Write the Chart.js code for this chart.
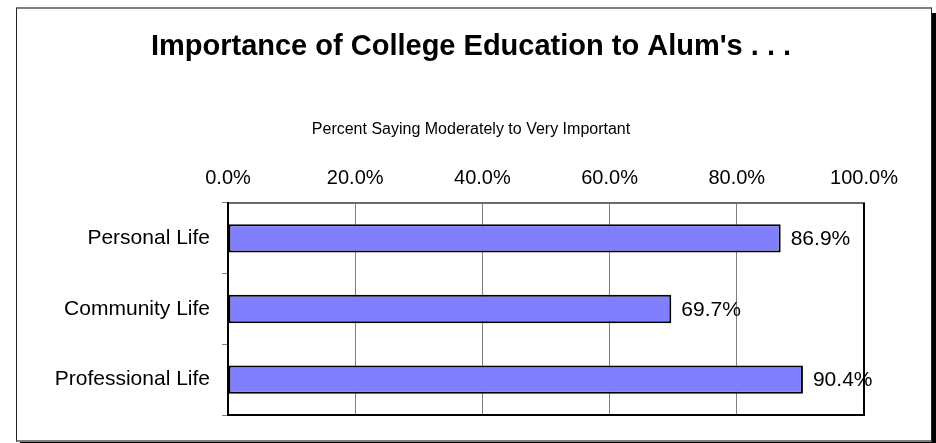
<!DOCTYPE html>
<html>
<head>
<meta charset="utf-8">
<script src="https://cdn.jsdelivr.net/npm/chart.js@4"></script>
<style>
  html, body { margin: 0; padding: 0; background: #fff; }
  #wrap { position: relative; width: 936px; height: 443px; overflow: hidden; }
  #frame {
    position: absolute; left: 16px; top: 7px; width: 914px; height: 431px;
    border-top: 2px solid #808080; border-bottom: 2px solid #808080;
    border-left: 1px solid #222; border-right: 1px solid #222;
    box-shadow: 4px 6px 0 #000;
    background: #fff;
  }
  #chart { position: absolute; left: 0; top: 0; }
</style>
</head>
<body>
<div id="wrap">
  <div id="frame"></div>
  <canvas id="chart" width="936" height="443"></canvas>
</div>
<script>
// data
const categories = ['Personal Life', 'Community Life', 'Professional Life'];
const percents   = [86.9, 69.7, 90.4];
const xTicks     = [0, 20, 40, 60, 80, 100];

const FONT = "'Liberation Sans', Arial, sans-serif";

// value labels to the right of each bar
const barLabels = {
  id: 'barLabels',
  afterDatasetsDraw(chart) {
    const ctx = chart.ctx;
    const meta = chart.getDatasetMeta(0);
    ctx.save();
    ctx.font = '21px ' + FONT;
    ctx.fillStyle = '#000';
    ctx.textAlign = 'left';
    ctx.textBaseline = 'middle';
    meta.data.forEach((bar, i) => {
      ctx.fillText(percents[i].toFixed(1) + '%', bar.x + 10, bar.y + 1);
    });
    ctx.restore();
  }
};

// black right and bottom edges of the plot area
const plotFrame = {
  id: 'plotFrame',
  afterDraw(chart) {
    const a = chart.chartArea;
    const ctx = chart.ctx;
    ctx.save();
    ctx.strokeStyle = '#000';
    ctx.lineWidth = 2;
    ctx.beginPath();
    ctx.moveTo(a.right, a.top);
    ctx.lineTo(a.right, a.bottom);
    ctx.lineTo(a.left - 1, a.bottom);
    ctx.stroke();
    ctx.restore();
  }
};

new Chart(document.getElementById('chart'), {
  type: 'bar',
  data: {
    labels: categories,
    datasets: [{
      data: percents,
      backgroundColor: '#8080FF',
      borderColor: '#000',
      borderWidth: 2,
      borderSkipped: false,
      barPercentage: 0.4,
      categoryPercentage: 1
    }]
  },
  options: {
    indexAxis: 'y',
    responsive: false,
    animation: false,
    layout: { padding: { left: 30, right: 24, bottom: 28, top: 0 } },
    plugins: {
      legend: { display: false },
      tooltip: { enabled: false },
      title: {
        display: true,
        text: "Importance of College Education to Alum's . . .",
        color: '#000',
        font: { family: FONT, size: 29, weight: 'bold', lineHeight: 1.2 },
        padding: { top: 30, bottom: 0 }
      },
      subtitle: {
        display: true,
        text: 'Percent Saying Moderately to Very Important',
        color: '#000',
        font: { family: FONT, size: 16, lineHeight: 1.2 },
        padding: { top: 55.6, bottom: 0 }
      }
    },
    scales: {
      x: {
        position: 'top',
        min: 0,
        max: 100,
        afterBuildTicks: (s) => { s.ticks = xTicks.map(v => ({ value: v })); },
        afterFit: (s) => { s.height = 63.4; },
        ticks: {
          color: '#000',
          padding: 13,
          font: { family: FONT, size: 20 },
          callback: (v) => v.toFixed(1) + '%'
        },
        grid: { color: '#808080', lineWidth: 1, drawTicks: false },
        border: { color: '#6a6a6a', width: 2 }
      },
      y: {
        afterFit: (s) => { s.width = 198; },
        ticks: {
          color: '#000',
          padding: 12,
          font: { family: FONT, size: 21 }
        },
        grid: { offset: true, drawOnChartArea: false, drawTicks: true, tickLength: 6, color: '#808080' },
        border: { color: '#000', width: 2 }
      },
      // empty spacer on the right, keeps the plot edge at the reference position
      yRight: {
        type: 'category',
        position: 'right',
        afterFit: (s) => { s.width = 48; },
        ticks: { display: false },
        grid: { display: false },
        border: { display: false }
      }
    }
  },
  plugins: [barLabels, plotFrame]
});
</script>
</body>
</html>
